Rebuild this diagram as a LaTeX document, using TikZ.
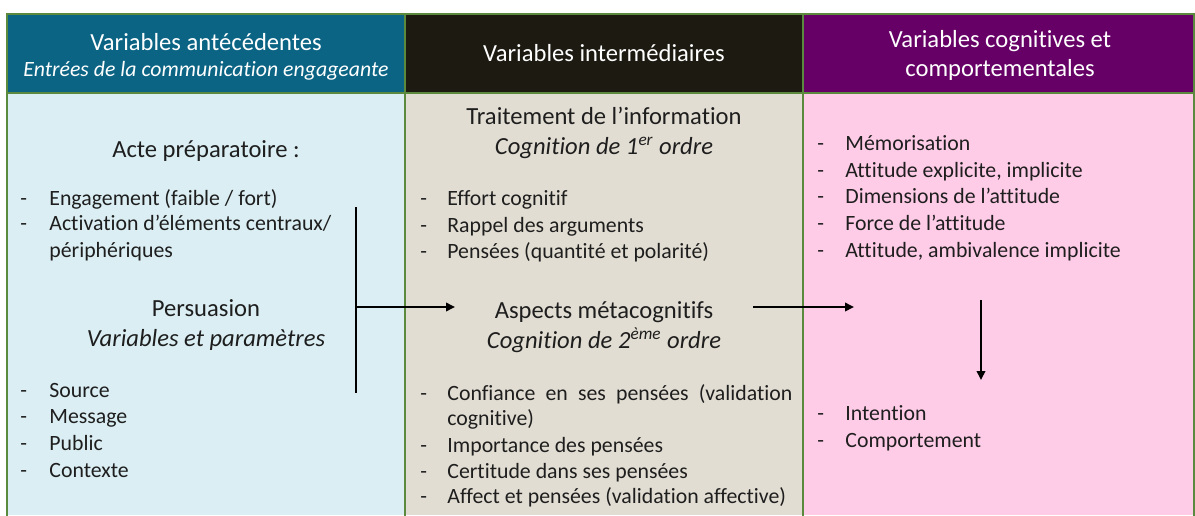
\documentclass[tikz,border=0pt]{standalone}
\usepackage{fontspec}
\setmainfont{Carlito}[Ligatures=NoCommon]
\usetikzlibrary{positioning,arrows.meta}
\definecolor{headTeal}{HTML}{0B6483}
\definecolor{headDark}{HTML}{1D1A12}
\definecolor{headPurple}{HTML}{660066}
\definecolor{bodyCyan}{HTML}{DAEEF3}
\definecolor{bodyBeige}{HTML}{E2DDD2}
\definecolor{bodyPink}{HTML}{FFCCE8}
\definecolor{gridGreen}{HTML}{5B8A3E}
\definecolor{inkGrey}{HTML}{1E1E1E}

\begin{document}
\begin{tikzpicture}[x=0.5pt,y=-0.5pt,
  headtxt/.style={white,font=\fontsize{12.3}{14}\selectfont,anchor=base,inner sep=0pt},
  subtxt/.style={inkGrey,font=\fontsize{12.3}{14}\selectfont,anchor=base,inner sep=0pt},
  itemtxt/.style={inkGrey,font=\fontsize{10.9}{13}\selectfont,anchor=base west,inner sep=0pt},
  bar/.style={line width=1.4pt},
  flow/.style={line width=1.1pt,-{Triangle[length=4.5pt,width=4.2pt]}}]
  \useasboundingbox (0,0) rectangle (1195,515);
  % cells
  \fill[headTeal] (7,14) rectangle (405,93);
  \fill[headDark] (405,14) rectangle (803,93);
  \fill[headPurple] (803,14) rectangle (1194,93);
  \fill[bodyCyan] (7,93) rectangle (405,515);
  \fill[bodyBeige] (405,93) rectangle (803,515);
  \fill[bodyPink] (803,93) rectangle (1194,515);
  \draw[gridGreen,line width=0.6pt] (7,520) -- (7,14) -- (1194,14) -- (1194,520)
    (7,93) -- (1194,93) (405,14) -- (405,520) (803,14) -- (803,520);
  % headers
  \node[headtxt] (h1a) at (206,50) {Variables antécédentes};
  \node[headtxt,font=\fontsize{10.9}{13}\selectfont\itshape] (h1b) at (206,76) {Entrées de la communication engageante};
  \node[headtxt] (h2) at (604,61) {Variables intermédiaires};
  \node[headtxt] (h3a) at (1000,47) {Variables cognitives et};
  \node[headtxt] (h3b) at (1000,76) {comportementales};
  % antecedent variables
  \node[subtxt] (acte) at (206,157) {Acte préparatoire :};
  \foreach \y/\t [count=\i] in {205/{Engagement (faible / fort)},230/{Activation d’éléments centraux/}}{
    \node[itemtxt] (ad\i) at (20,\y) {-};
    \node[itemtxt] (ai\i) at (49,\y) {\t};
  }
  \node[itemtxt] (ai3) at (49,257) {périphériques};
  \node[subtxt] (pers) at (206,316) {Persuasion};
  \node[subtxt] (persb) at (206,346) {\itshape Variables et paramètres};
  \foreach \y/\t [count=\i] in {397/Source,423/Message,450/Public,477/Contexte}{
    \node[itemtxt] (pd\i) at (20,\y) {-};
    \node[itemtxt] (pi\i) at (49,\y) {\t};
  }
  % intermediate variables
  \node[subtxt] (trait) at (604,124) {Traitement de l’information};
  \node[subtxt] (traitb) at (604,154) {\itshape Cognition de 1\textsuperscript{er} ordre};
  \foreach \y/\t [count=\i] in {205/{Effort cognitif},232/{Rappel des arguments},258/{Pensées (quantité et polarité)}}{
    \node[itemtxt] (td\i) at (420,\y) {-};
    \node[itemtxt] (ti\i) at (447,\y) {\t};
  }
  \node[subtxt] (meta) at (604,318) {Aspects métacognitifs};
  \node[subtxt] (metab) at (604,348) {\itshape Cognition de 2\textsuperscript{ème} ordre};
  \node[itemtxt] (md1) at (420,400) {-};
  \node[itemtxt] (mi1) at (447,400) {\makebox[172.5pt][s]{Confiance en ses pensées (validation}};
  \node[itemtxt] (mi1b) at (447,425) {cognitive)};
  \foreach \y/\t [count=\i from 2] in {452/{Importance des pensées},478/{Certitude dans ses pensées},503/{Affect et pensées (validation affective)}}{
    \node[itemtxt] (md\i) at (420,\y) {-};
    \node[itemtxt] (mi\i) at (447,\y) {\t};
  }
  % cognitive and behavioural variables
  \foreach \y/\t [count=\i] in {150/{Mémorisation},177/{Attitude explicite, implicite},203/{Dimensions de l’attitude},230/{Force de l’attitude},257/{Attitude, ambivalence implicite}}{
    \node[itemtxt] (cd\i) at (817,\y) {-};
    \node[itemtxt] (ci\i) at (845,\y) {\t};
  }
  \foreach \y/\t [count=\i] in {420/Intention,447/Comportement}{
    \node[itemtxt] (bd\i) at (817,\y) {-};
    \node[itemtxt] (bi\i) at (845,\y) {\t};
  }
  % connectors
  \coordinate (barTop) at (356,207);
  \coordinate (barBot) at (356,393);
  \coordinate (barMid) at (356,307);
  \coordinate (metaIn) at (455,307);
  \coordinate (metaOut) at (753,307);
  \coordinate (cogIn) at (854,307);
  \coordinate (cogTop) at (981,300);
  \coordinate (behIn) at (981,380);
  \draw[bar] (barTop) -- (barBot);
  \draw[flow] (barMid) -- (metaIn);
  \draw[flow] (metaOut) -- (cogIn);
  \draw[flow] (cogTop) -- (behIn);
\end{tikzpicture}
\end{document}
